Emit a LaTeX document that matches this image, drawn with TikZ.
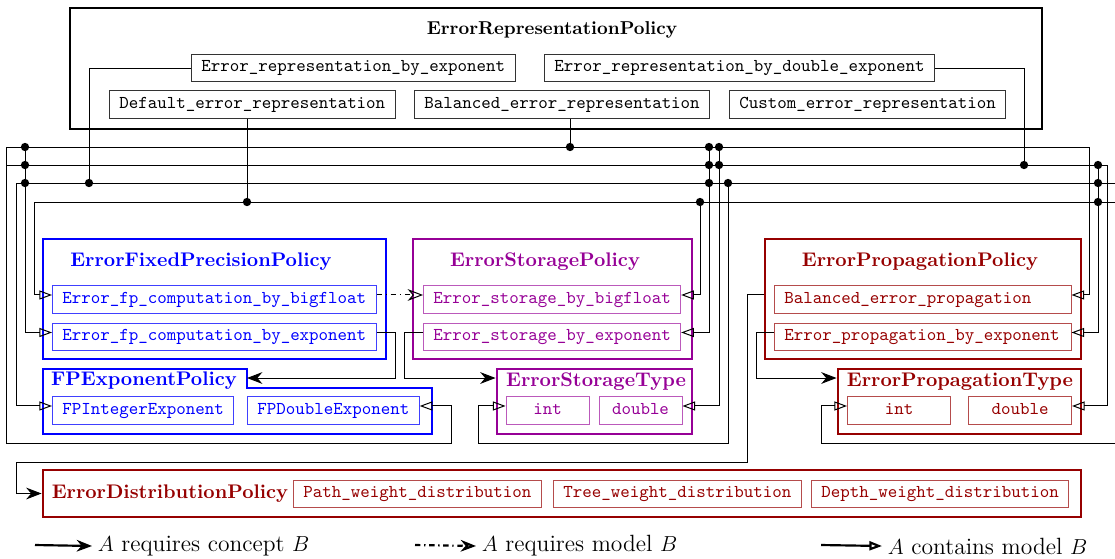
\documentclass[tikz,border=0pt]{standalone}
\usepackage{tikz}
\usetikzlibrary{arrows.meta,positioning,fit,calc}

\definecolor{fpblue}{RGB}{0,0,255}
\definecolor{stopurple}{RGB}{150,0,150}
\definecolor{propred}{RGB}{150,0,0}

\begin{document}
\begin{tikzpicture}[x=0.553pt, y=-0.553pt,
    wire/.style={line width=0.55pt},
    model/.style={wire, -{Triangle[open, length=7pt, width=5pt]}},
    concept/.style={wire, -{Stealth[length=8.5pt, width=6.5pt]}},
    reqmodel/.style={wire, dash pattern=on 3pt off 2pt on 0.8pt off 2pt, -{Stealth[open, length=8.5pt, width=6.5pt]}},
    jn/.style={circle, fill, inner sep=0pt, minimum size=4.6pt},
    policy frame/.style={draw=#1, line width=1.6pt, inner sep=0pt},
    ptitle/.style={font=\fontsize{10.9}{13}\selectfont\bfseries, text=#1, inner sep=0pt},
    model box/.style={draw=#1, font=\ttfamily, line width=0.5pt, inner xsep=5.5pt, inner ysep=3.2pt, text height=6.5pt, text depth=2.2pt},
    legend text/.style={font=\fontsize{13}{16}\selectfont, inner sep=3pt},
  ]
  \useasboundingbox (0,0) rectangle (1115,558);

  % representation policy
  \node[policy frame=black, fit={(70,8) (1042,129)}] (rep) {};
  \node[ptitle=black, font=\fontsize{10.3}{12}\selectfont\bfseries] (reptitle) at (552,30) {ErrorRepresentationPolicy};
  \node[model box=black!80, anchor=west] (repexp) at (191,68) {Error\_representation\_by\_exponent};
  \node[model box=black!80, anchor=west] (repdbl) at (544,68) {Error\_representation\_by\_double\_exponent};
  \node[model box=black!80, anchor=west] (repdef) at (109,104.5) {Default\_error\_representation};
  \node[model box=black!80, anchor=west] (repbal) at (414,104.5) {Balanced\_error\_representation};
  \node[model box=black!80, anchor=west] (repcus) at (729,104.5) {Custom\_error\_representation};

  % fixed precision policy
  \node[policy frame=fpblue, fit={(43,239) (386,359)}] (fix) {};
  \node[ptitle=fpblue] (fixtitle) at (201,262) {ErrorFixedPrecisionPolicy};
  \node[model box=fpblue!75, text=fpblue, anchor=west] (fpbig) at (52,299.5) {Error\_fp\_computation\_by\_bigfloat};
  \node[model box=fpblue!75, text=fpblue, anchor=west] (fpexp) at (52,337) {Error\_fp\_computation\_by\_exponent};

  % storage policy
  \node[policy frame=stopurple, fit={(413,239) (692,359)}] (sto) {};
  \node[ptitle=stopurple] (stotitle) at (545,262) {ErrorStoragePolicy};
  \node[model box=stopurple!65, text=stopurple, anchor=west] (stobig) at (423,299.5) {Error\_storage\_by\_bigfloat};
  \node[model box=stopurple!65, text=stopurple, anchor=west] (stoexp) at (423,337) {Error\_storage\_by\_exponent};

  % propagation policy
  \node[policy frame=propred, fit={(765,239) (1081,359)}] (prop) {};
  \node[ptitle=propred] (proptitle) at (920,262) {ErrorPropagationPolicy};
  \node[model box=propred!70, text=propred, text width=153pt, anchor=west] (propbal) at (774,299.5) {Balanced\_error\_propagation};
  \node[model box=propred!70, text=propred, text width=153pt, anchor=west] (propexp) at (774,337) {Error\_propagation\_by\_exponent};

  % exponent policy
  \draw[fpblue, line width=1.6pt] (43,369) -- (247,369) -- (247,388) -- (432,388) -- (432,434) -- (43,434) -- cycle;
  \coordinate (fptab) at (247,378);
  \node[ptitle=fpblue] (fptitle) at (144,381) {FPExponentPolicy};
  \node[model box=fpblue!75, text=fpblue, anchor=west] (fpint) at (52,410.5) {FPIntegerExponent};
  \node[model box=fpblue!75, text=fpblue, anchor=west] (fpdbl) at (247,410.5) {FPDoubleExponent};

  % storage type
  \node[policy frame=stopurple, fit={(497,369) (692,434)}] (stotype) {};
  \node[ptitle=stopurple] (stotypetitle) at (596,382) {ErrorStorageType};
  \node[model box=stopurple!65, text=stopurple, minimum width=45.9pt] (stoint) at (547.5,410.5) {int};
  \node[model box=stopurple!65, text=stopurple, minimum width=45.9pt] (stodbl) at (640.5,410.5) {double};

  % propagation type
  \node[policy frame=propred, fit={(838,369) (1081,434)}] (proptype) {};
  \node[ptitle=propred] (proptypetitle) at (960,382) {ErrorPropagationType};
  \node[model box=propred!70, text=propred, minimum width=57pt] (propint) at (899,410.5) {int};
  \node[model box=propred!70, text=propred, minimum width=57pt] (propdbl) at (1020,410.5) {double};

  % distribution policy
  \node[policy frame=propred, fit={(43,470) (1081,517)}] (dist) {};
  \node[ptitle=propred] (disttitle) at (170,494) {ErrorDistributionPolicy};
  \node[model box=propred!70, text=propred, anchor=west] (distpath) at (293,494) {Path\_weight\_distribution};
  \node[model box=propred!70, text=propred, anchor=west] (disttree) at (553,494) {Tree\_weight\_distribution};
  \node[model box=propred!70, text=propred, anchor=west] (distdepth) at (811,494) {Depth\_weight\_distribution};

  % buses
  \coordinate (b1l) at (6,147);  \coordinate (b1r) at (1089,147);
  \coordinate (b2l) at (6,165);  \coordinate (b2r) at (1107,165);
  \coordinate (b3l) at (16,183); \coordinate (b3r) at (1115,183);
  \coordinate (b4l) at (34,202); \coordinate (b4r) at (1115,202);
  \draw[wire] (b1l) -- (b1r);
  \draw[wire] (b2l) -- (b2r);
  \draw[wire] (b3l) -- (b3r);
  \draw[wire] (b4l) -- (b4r);

  \coordinate (s1) at (89,183);
  \coordinate (s2) at (247,202);
  \coordinate (s3) at (570,147);
  \coordinate (s4) at (1024,165);
  \draw[wire] (repexp.west) -| (s1);
  \draw[wire] (repdef.south -| s2) -- (s2);
  \draw[wire] (repbal.south -| s3) -- (s3);
  \draw[wire] (repdbl.east) -| (s4);

  \coordinate (d1) at (25,147);
  \coordinate (d5) at (700,202);
  \coordinate (d6) at (709,147);
  \coordinate (d7) at (719,147);
  \coordinate (d8) at (728,183);
  \coordinate (d9) at (1098,165);
  \coordinate (lpA) at (451,443);
  \coordinate (lpB) at (478,443);
  \coordinate (lpC) at (821,443);
  \coordinate (lpD) at (1115,443);

  \draw[model] (b1l) |- (lpA) |- ([yshift=2.5pt]fpdbl.east);
  \draw[model] (b3l) |- ([yshift=2.5pt]fpint.west);
  \draw[model] (d1) |- ([yshift=2.5pt]fpexp.west);
  \draw[model] (b4l) |- ([yshift=2.5pt]fpbig.west);
  \draw[model] (d5) |- ([yshift=2.5pt]stobig.east);
  \draw[model] (d6) |- ([yshift=2.5pt]stoexp.east);
  \draw[model] (d7) |- ([yshift=2.5pt]stodbl.east);
  \draw[model] (d8) |- (lpB) |- ([yshift=2.5pt]stoint.west);
  \draw[model] (b1r) |- ([yshift=2.5pt]propbal.east);
  \draw[model] (d9) |- ([yshift=2.5pt]propexp.east);
  \draw[model] (b2r) |- ([yshift=2.5pt]propdbl.east);
  \draw[model] (lpD) -- (lpC) |- ([yshift=2.5pt]propint.west);

  \foreach \p [count=\i] in {(25,147),(25,165),(25,183),(89,183),(247,202),(570,147),
      (700,202),(709,147),(709,165),(709,183),(719,147),(719,165),(728,183),
      (1024,165),(1098,165),(1098,183),(1098,202)}
    \node[jn] (dot\i) at \p {};

  % concepts
  \coordinate (k1) at (395,378);
  \coordinate (k2) at (404,378);
  \coordinate (k3) at (756,378);
  \coordinate (k4) at (747,462);
  \coordinate (k5) at (16,462);
  \draw[reqmodel] ([yshift=2.5pt]fpbig.east) -- ([yshift=2.5pt]stobig.west);
  \draw[concept] ([yshift=2.5pt]fpexp.east) -| (k1) -- (fptab);
  \draw[concept] ([yshift=2.5pt]stoexp.west) -| (k2) -- (k2 -| stotype.west);
  \draw[concept] ([yshift=2.5pt]propexp.west) -| (k3) -- (k3 -| proptype.west);
  \draw[concept] ([yshift=2.5pt]prop.west) -| (k4) -- (k5) |- (dist.west);

  % legend
  \coordinate (lg1) at (35,545);
  \coordinate (lg2) at (415,545);
  \coordinate (lg3) at (821,545);
  \node[legend text, anchor=west] (lt1) at (92,546) {$A$ requires concept $B$};
  \node[legend text, anchor=west] (lt2) at (476,546) {$A$ requires model $B$};
  \node[legend text, anchor=west] (lt3) at (882,546) {$A$ contains model $B$};
  \draw[concept, line width=1.2pt] (lg1) -- (lt1.west);
  \draw[reqmodel, line width=1.2pt] (lg2) -- (lt2.west);
  \draw[model, line width=1.2pt] (lg3) -- (lt3.west);
\end{tikzpicture}
\end{document}
